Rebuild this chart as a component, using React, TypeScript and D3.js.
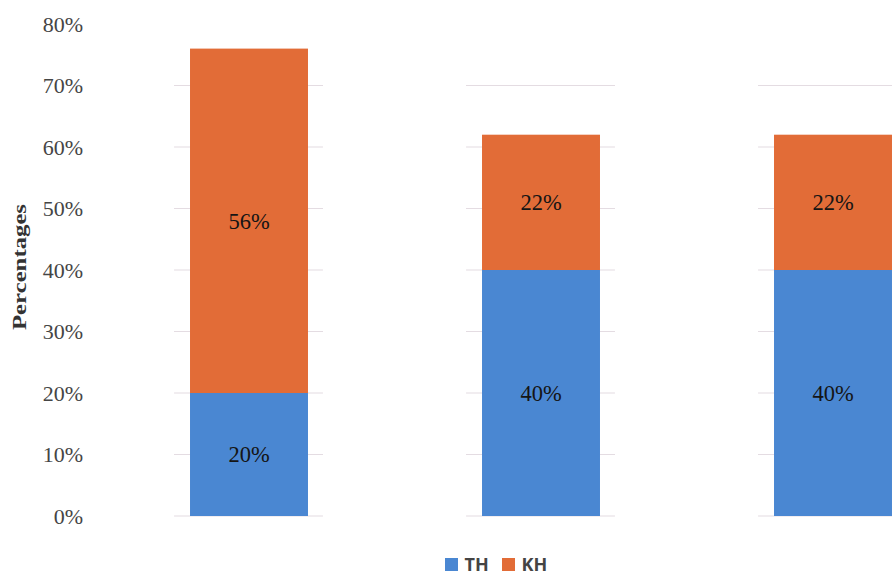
import React from "react";
import * as d3 from "d3";

const categories = ["A", "B", "C"];
const thValues = [20, 40, 40];
const khValues = [56, 22, 22];
const yTicks = [0, 10, 20, 30, 40, 50, 60, 70, 80];
const gridTicks = [0, 10, 20, 30, 40, 50, 60, 70];
const seriesNames = ["TH", "KH"];
const seriesColors = ["#4a87d2", "#e26c37"];

const W = 892;
const H = 577;
const serif = "Liberation Serif, Times New Roman, serif";

export default function App() {
  const y = d3.scaleLinear().domain([0, 80]).range([516, 24]);
  const x = d3
    .scaleBand<string>()
    .domain(categories)
    .range([103, 979])
    .paddingInner(0.596)
    .paddingOuter(0.298);

  const rows = categories.map((c, i) => ({ cat: c, TH: thValues[i], KH: khValues[i] }));
  const stacked = d3.stack<any>().keys(seriesNames)(rows);
  const bw = x.bandwidth();

  return (
    <svg
      width={W}
      height={H}
      style={{ position: "absolute", left: 0, top: 0, background: "#fff" }}
    >
      {/* short gridline stubs around each bar */}
      {categories.map((c) =>
        gridTicks.map((t) => (
          <line
            key={c + t}
            x1={x(c)! - 16}
            x2={x(c)! + bw + 15}
            y1={y(t)}
            y2={y(t)}
            stroke="#e4dce2"
            strokeWidth={1.1}
          />
        ))
      )}
      {yTicks.map((t) => (
        <text
          key={t}
          x={83}
          y={y(t)}
          dy="0.35em"
          textAnchor="end"
          fontFamily={serif}
          fontSize={22}
          fill="#454545"
        >
          {t}%
        </text>
      ))}
      <text
        transform={`translate(26, 267) rotate(-90)`}
        textAnchor="middle"
        fontFamily={serif}
        fontWeight="bold"
        fontSize={19}
        fill="#333"
        textLength={126}
        lengthAdjust="spacingAndGlyphs"
      >
        Percentages
      </text>
      {stacked.map((layer, li) => (
        <g key={layer.key}>
          {layer.map((d, i) => {
            const x0 = x(categories[i])!;
            const y0 = y(d[1]);
            const h = y(d[0]) - y(d[1]);
            const v = d[1] - d[0];
            return (
              <g key={i}>
                <rect x={x0} y={y0} width={bw} height={h} fill={seriesColors[li]} />
                <text
                  x={x0 + bw / 2}
                  y={y0 + h / 2}
                  dy="0.35em"
                  textAnchor="middle"
                  fontFamily={serif}
                  fontSize={22.5}
                  fill="#151515"
                >
                  {v}%
                </text>
              </g>
            );
          })}
        </g>
      ))}
      {seriesNames.map((s, i) => {
        const lx = 445 + i * 57;
        return (
          <g key={s}>
            <rect x={lx} y={558} width={13} height={13} fill={seriesColors[i]} />
            <text
              x={lx + 19.5}
              y={564.5}
              dy="0.36em"
              fontFamily="Open Sans, DejaVu Sans, sans-serif"
              fontWeight="bold"
              fontSize={18}
              fill="#444"
            >
              {s}
            </text>
          </g>
        );
      })}
    </svg>
  );
}
